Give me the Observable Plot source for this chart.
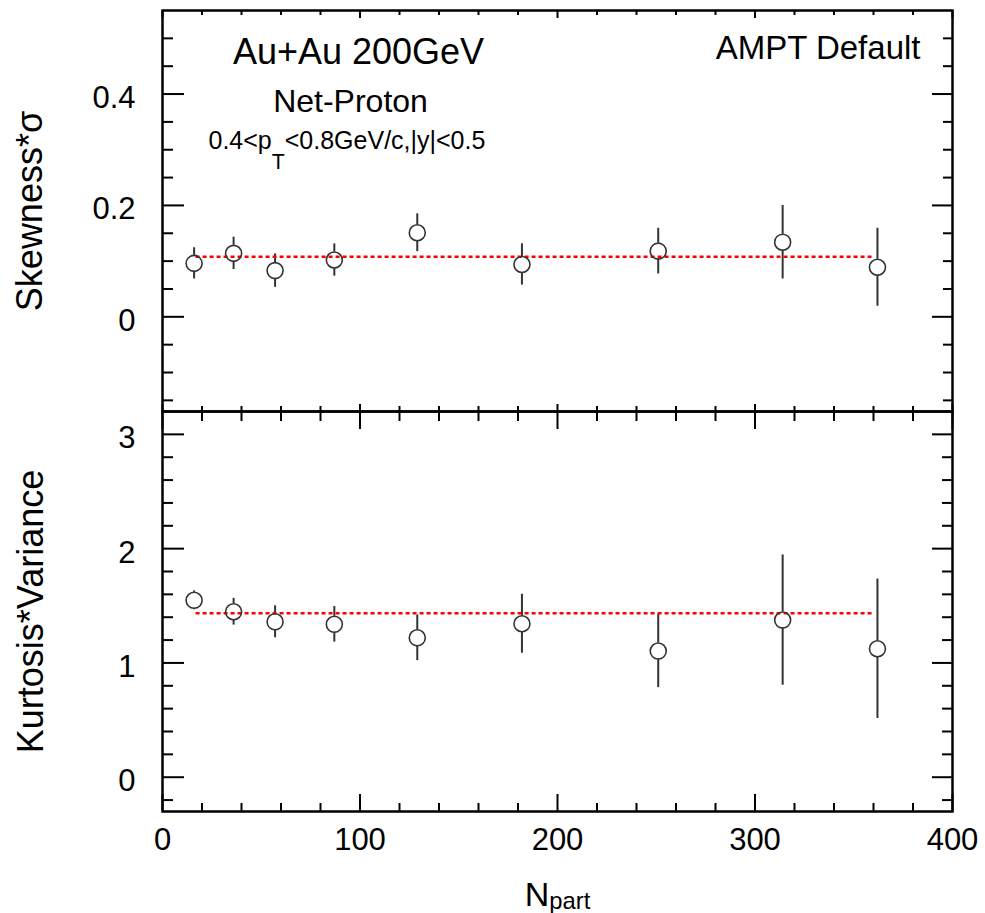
<!DOCTYPE html>
<html><head><meta charset="utf-8">
<script src="https://cdn.jsdelivr.net/npm/d3@7"></script>
<script src="https://cdn.jsdelivr.net/npm/@observablehq/plot@0.6"></script>
<style>
html,body{margin:0;padding:0;background:#fff;overflow:hidden}
#chart{position:relative;width:985px;height:913px}
#chart svg{position:absolute;left:0;overflow:visible;background:none}
</style></head><body><div id="chart"></div>
<script>
// ---- data ----
const npart = [16, 36, 57, 87, 129, 182, 251, 314, 362];
const skewSigma = [0.096, 0.114, 0.083, 0.102, 0.151, 0.094, 0.118, 0.134, 0.089];
const skewErr = [0.028, 0.029, 0.030, 0.029, 0.034, 0.037, 0.041, 0.066, 0.070];
const kurtVar = [1.548, 1.448, 1.360, 1.338, 1.220, 1.343, 1.104, 1.375, 1.124];
const kurtErr = [0.083, 0.117, 0.140, 0.156, 0.200, 0.258, 0.320, 0.570, 0.610];
const fitRange = [17, 360];
const skewFit = 0.108;
const kurtFit = 1.434;

// ---- axes / ticks ----
const xDomain = [0, 400];
const xMajor = [0, 100, 200, 300, 400];
const xMinor = [20, 40, 60, 80, 120, 140, 160, 180, 220, 240, 260, 280, 320, 340, 360, 380];
const skewDomain = [-0.17, 0.55];
const skewMajor = [0, 0.2, 0.4];
const skewMinor = [-0.15, -0.1, -0.05, 0.05, 0.1, 0.15, 0.25, 0.3, 0.35, 0.45, 0.5];
const kurtDomain = [-0.3, 3.2];
const kurtMajor = [0, 1, 2, 3];
const kurtMinor = [-0.2, 0.2, 0.4, 0.6, 0.8, 1.2, 1.4, 1.6, 1.8, 2.2, 2.4, 2.6, 2.8];

// ---- texts ----
const skewTitle = "Skewness*σ";
const kurtTitle = "Kurtosis*Variance";
const xTitle = "N_{part}";
const sysLabel = "Au+Au 200GeV";
const particleLabel = "Net-Proton";
const cutLabel = "0.4<p_{T}<0.8GeV/c,|y|<0.5";
const modelLabel = "AMPT Default";

const font = "'Liberation Sans', Arial, Helvetica, sans-serif";
const W = 985;
const markColor = "#333";
const fmt = d => String(d);

function ticks(axis, anchor, values, size) {
  return axis({anchor, ticks: values, tickSize: -size, fill: "none", stroke: "#000", strokeWidth: 2});
}
function errorBars(rows) {
  return [
    Plot.ruleX(rows, {x: "n", y1: d => d.v + d.e, y2: "v", insetBottom: 8, stroke: markColor, strokeWidth: 2}),
    Plot.ruleX(rows, {x: "n", y1: "v", y2: d => d.v - d.e, insetTop: 8, stroke: markColor, strokeWidth: 2})
  ];
}
function applySubscripts(svg, scale, shiftPx) {
  d3.select(svg).selectAll("text").each(function() {
    const t = this.textContent;
    if (!t.includes("_{")) return;
    const parts = t.split(/(_\{[^}]*\})/).filter(s => s.length);
    const sel = d3.select(this);
    sel.text(null);
    let shifted = false;
    parts.forEach(p => {
      if (p.startsWith("_{")) {
        sel.append("tspan").attr("dy", shiftPx).attr("font-size", (scale * 100) + "%").text(p.slice(2, -1));
        shifted = true;
      } else {
        const ts = sel.append("tspan").text(p);
        if (shifted) { ts.attr("dy", -shiftPx); shifted = false; }
      }
    });
  });
}

const rowsS = npart.map((n, i) => ({n, v: skewSigma[i], e: skewErr[i]}));
const rowsK = npart.map((n, i) => ({n, v: kurtVar[i], e: kurtErr[i]}));
const style = {fontFamily: font, fontSize: "30px", color: "#000", background: "none", overflow: "visible"};

const topPlot = Plot.plot({
  width: W, height: 411,
  marginTop: 10, marginBottom: 0, marginLeft: 162, marginRight: 33,
  style,
  x: {domain: xDomain, axis: null},
  y: {domain: skewDomain, axis: null},
  marks: [
    ...errorBars(rowsS),
    Plot.ruleY([skewFit], {x1: fitRange[0], x2: fitRange[1], stroke: "#ff0000", strokeWidth: 2.5, strokeDasharray: "4,3"}),
    Plot.dot(rowsS, {x: "n", y: "v", r: 8, stroke: markColor, strokeWidth: 1.6, fill: "none"}),
    Plot.axisY({anchor: "left", ticks: skewMajor, tickFormat: fmt, tickSize: 0, tickPadding: 27, label: null, fontSize: 31, dy: 4}),
    ticks(Plot.axisY, "left", skewMajor, 22),
    ticks(Plot.axisY, "left", skewMinor, 11),
    ticks(Plot.axisY, "right", skewMajor, 21),
    ticks(Plot.axisY, "right", skewMinor, 10),
    ticks(Plot.axisX, "top", xMajor, 7),
    ticks(Plot.axisX, "top", xMinor, 4),
    ticks(Plot.axisX, "bottom", xMajor, 7),
    ticks(Plot.axisX, "bottom", xMinor, 5),
    Plot.text([skewTitle], {text: d => d, frameAnchor: "left", rotate: -90, dx: -132, fontSize: 36, textAnchor: "middle", lineAnchor: "middle"}),
    Plot.text([sysLabel], {text: d => d, frameAnchor: "top-left", dx: 196, dy: 53, fontSize: 36, textAnchor: "middle", lineAnchor: "bottom"}),
    Plot.text([particleLabel], {text: d => d, frameAnchor: "top-left", dx: 188, dy: 101, fontSize: 32, textAnchor: "middle", lineAnchor: "bottom"}),
    Plot.text([cutLabel], {text: d => d, frameAnchor: "top-left", dx: 46, dy: 138, fontSize: 25, textAnchor: "start", lineAnchor: "bottom"}),
    Plot.text([modelLabel], {text: d => d, frameAnchor: "top-right", dx: -32, dy: 48, fontSize: 33, textAnchor: "end", lineAnchor: "bottom"}),
    Plot.frame({stroke: "#000", strokeWidth: 2.5})
  ]
});
applySubscripts(topPlot, 0.85, 20);

const bottomPlot = Plot.plot({
  width: W, height: 502,
  marginTop: 0, marginBottom: 102, marginLeft: 162, marginRight: 33,
  style,
  x: {domain: xDomain, axis: null},
  y: {domain: kurtDomain, axis: null},
  marks: [
    ...errorBars(rowsK),
    Plot.ruleY([kurtFit], {x1: fitRange[0], x2: fitRange[1], stroke: "#ff0000", strokeWidth: 2.5, strokeDasharray: "4,3"}),
    Plot.dot(rowsK, {x: "n", y: "v", r: 8, stroke: markColor, strokeWidth: 1.6, fill: "none"}),
    Plot.axisY({anchor: "left", ticks: kurtMajor, tickFormat: fmt, tickSize: 0, tickPadding: 27, label: null, fontSize: 31, dy: 4}),
    Plot.axisX({anchor: "bottom", ticks: xMajor, tickFormat: fmt, tickSize: 0, tickPadding: 16, label: null, fontSize: 31}),
    ticks(Plot.axisY, "left", kurtMajor, 22),
    ticks(Plot.axisY, "left", kurtMinor, 11),
    ticks(Plot.axisY, "right", kurtMajor, 21),
    ticks(Plot.axisY, "right", kurtMinor, 11),
    ticks(Plot.axisX, "top", xMajor, 17),
    ticks(Plot.axisX, "top", xMinor, 9),
    ticks(Plot.axisX, "bottom", xMajor, 17),
    ticks(Plot.axisX, "bottom", xMinor, 8),
    Plot.text([kurtTitle], {text: d => d, frameAnchor: "left", rotate: -90, dx: -131, fontSize: 36, textAnchor: "middle", lineAnchor: "middle"}),
    Plot.text([xTitle], {text: d => d, frameAnchor: "bottom", dx: 0, dy: 94, fontSize: 34, textAnchor: "middle", lineAnchor: "bottom"}),
    Plot.frame({stroke: "#000", strokeWidth: 2.5})
  ]
});
applySubscripts(bottomPlot, 0.7, 3);

const chart = document.getElementById("chart");
topPlot.style.top = "0px";
bottomPlot.style.top = "411px";
chart.appendChild(topPlot);
chart.appendChild(bottomPlot);
</script></body></html>
